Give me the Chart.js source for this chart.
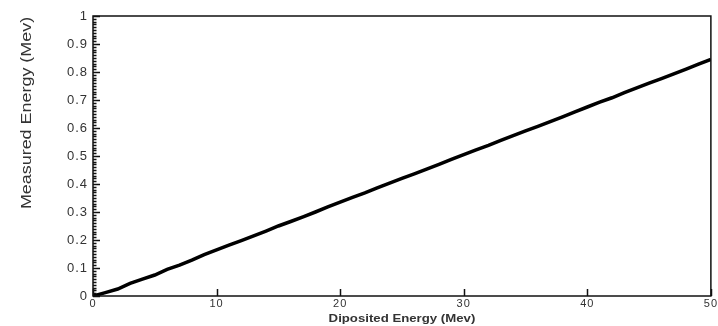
<!DOCTYPE html>
<html>
<head>
<meta charset="utf-8">
<script src="https://cdn.jsdelivr.net/npm/chart.js@4/dist/chart.umd.min.js"></script>
<style>
  html, body { margin: 0; padding: 0; background: #fff; }
  #wrap { width: 718px; height: 326px; }
</style>
</head>
<body>
<div id="wrap"><canvas id="energyChart" width="718" height="326"></canvas></div>
<script>
// deposited energy (Mev) and measured energy (Mev)
const deposited = [0, 1, 2, 3, 4, 5, 6, 7, 8, 9, 10, 11, 12, 13, 14, 15, 16, 17, 18, 19, 20,
  21, 22, 23, 24, 25, 26, 27, 28, 29, 30, 31, 32, 33, 34, 35, 36, 37, 38, 39, 40,
  41, 42, 43, 44, 45, 46, 47, 48, 49, 50];
const measured = [0, 0.012, 0.025, 0.045, 0.06, 0.075, 0.095, 0.11, 0.128, 0.148, 0.165,
  0.182, 0.198, 0.215, 0.232, 0.25, 0.266, 0.283, 0.3, 0.318, 0.335,
  0.352, 0.368, 0.386, 0.403, 0.42, 0.436, 0.453, 0.47, 0.488, 0.505,
  0.522, 0.538, 0.556, 0.573, 0.59, 0.606, 0.623, 0.64, 0.658, 0.675,
  0.692, 0.708, 0.726, 0.743, 0.76, 0.776, 0.793, 0.81, 0.828, 0.845];
const xTicks = [0, 10, 20, 30, 40, 50];
const yTicks = [0, 0.1, 0.2, 0.3, 0.4, 0.5, 0.6, 0.7, 0.8, 0.9, 1];
const xTitle = "Diposited Energy (Mev)";
const yTitle = "Measured Energy (Mev)";

const fontFam = "'Liberation Sans', Arial, sans-serif";

// the original text looks a bit stretched, so widen it a little
const spacing = {
  id: "spacing",
  beforeDraw(chart) { chart.ctx.letterSpacing = "1px"; }
};

// frame, inward tick marks and axis titles, ROOT style
const frameTicks = {
  id: "frameTicks",
  afterDraw(chart) {
    const ctx = chart.ctx;
    const a = chart.chartArea;
    const xs = chart.scales.x, ys = chart.scales.y;
    ctx.save();
    ctx.strokeStyle = "#111";
    ctx.lineWidth = 1.5;
    ctx.strokeRect(a.left, a.top, a.right - a.left, a.bottom - a.top);
    ctx.beginPath();
    for (let i = 0; i <= 100; i++) {
      const py = Math.round(ys.getPixelForValue(i / 100)) + 0.5;
      const len = i % 10 === 0 ? 7 : 3.5;
      ctx.moveTo(a.left, py);
      ctx.lineTo(a.left + len, py);
    }
    xTicks.forEach(v => {
      const px = Math.round(xs.getPixelForValue(v)) + 0.5;
      ctx.moveTo(px, a.bottom);
      ctx.lineTo(px, a.bottom - 7);
    });
    ctx.stroke();

    ctx.fillStyle = "#333";
    ctx.textAlign = "center";
    ctx.textBaseline = "middle";
    ctx.letterSpacing = "0px";

    ctx.save();
    ctx.font = "bold 11px " + fontFam;
    ctx.translate((a.left + a.right) / 2, 319);
    ctx.scale(1.2, 1);
    ctx.fillText(xTitle, 0, 0);
    ctx.restore();

    ctx.font = "14px " + fontFam;
    ctx.translate(27, 113);
    ctx.rotate(-Math.PI / 2);
    ctx.scale(1.28, 1);
    ctx.fillText(yTitle, 0, 0);
    ctx.restore();
  }
};

new Chart(document.getElementById("energyChart"), {
  type: "line",
  data: {
    labels: deposited,
    datasets: [{
      data: deposited.map((x, i) => ({ x: x, y: measured[i] })),
      borderColor: "#000",
      borderWidth: 3.5,
      pointRadius: 0,
      tension: 0,
      fill: false
    }]
  },
  options: {
    responsive: false,
    animation: false,
    layout: { padding: { top: 16, right: 4, left: 0, bottom: 0 } },
    plugins: { legend: { display: false }, tooltip: { enabled: false } },
    scales: {
      x: {
        type: "linear",
        min: 0, max: 50,
        grid: { display: false, drawTicks: false, tickLength: 0 },
        border: { display: false },
        afterBuildTicks: s => { s.ticks = xTicks.map(v => ({ value: v })); },
        afterFit: s => { s.height = 30; },
        ticks: { color: "#333", padding: 1, font: { family: fontFam, size: 11 } }
      },
      y: {
        type: "linear",
        min: 0, max: 1,
        grid: { display: false, drawTicks: false, tickLength: 0 },
        border: { display: false },
        afterBuildTicks: s => { s.ticks = yTicks.map(v => ({ value: v })); },
        afterFit: s => { s.width = 93; },
        ticks: {
          color: "#333", padding: 5, font: { family: fontFam, size: 13 },
          callback: v => String(+v.toFixed(1))
        }
      }
    }
  },
  plugins: [spacing, frameTicks]
});
</script>
</body>
</html>
